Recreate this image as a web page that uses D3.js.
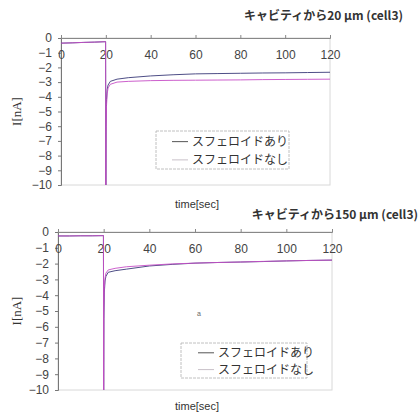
<!DOCTYPE html>
<html><head><meta charset="utf-8">
<script src="https://cdn.jsdelivr.net/npm/d3@7"></script>
<style>body{margin:0;background:#fff}svg{display:block}</style>
</head><body>
<script>
const time = [0, 5, 10, 15, 19.9, 20, 20.1, 20.3, 20.6, 21, 22, 25, 30, 40, 50, 60, 70, 80, 90, 100, 110, 120];
const top_with    = [-0.35,-0.33,-0.3,-0.28,-0.25,-10,-6,-4.2,-3.5,-3.2,-2.95,-2.8,-2.7,-2.58,-2.5,-2.44,-2.42,-2.4,-2.38,-2.37,-2.35,-2.33];
const top_without = [-0.35,-0.33,-0.3,-0.28,-0.25,-10,-6.5,-4.6,-3.8,-3.4,-3.15,-3.0,-2.95,-2.9,-2.88,-2.87,-2.86,-2.85,-2.83,-2.82,-2.81,-2.8];
const bot_with    = [-0.25,-0.25,-0.24,-0.24,-0.23,-10,-5.5,-3.8,-3.1,-2.8,-2.55,-2.45,-2.35,-2.15,-2.05,-1.97,-1.93,-1.9,-1.87,-1.83,-1.8,-1.78];
const bot_without = [-0.25,-0.25,-0.24,-0.24,-0.23,-10,-5,-3.5,-2.9,-2.6,-2.4,-2.3,-2.2,-2.1,-2.02,-1.97,-1.93,-1.9,-1.86,-1.83,-1.8,-1.78];
const xTicks = [0, 20, 40, 60, 80, 100, 120];
const yTicks = [0,-1,-2,-3,-4,-5,-6,-7,-8,-9,-10];
const seriesNames = ["スフェロイドあり", "スフェロイドなし"];
const titles = ["キャビティから20 µm (cell3)", "キャビティから150 µm (cell3)"];

const svg = d3.select("body").append("svg").attr("width", 420).attr("height", 412);

function chart(cfg) {
  const x = d3.scaleLinear().domain([0, 120]).range([cfg.l, cfg.r]);
  const y = d3.scaleLinear().domain([0, -10]).range([cfg.t, cfg.b]);
  const g = svg.append("g");
  g.append("rect").attr("x", cfg.l).attr("y", cfg.t).attr("width", cfg.r - cfg.l).attr("height", cfg.b - cfg.t)
    .attr("fill", "none").attr("stroke", "#d8d8d8").attr("stroke-width", 1);
  const ya = g.append("g").attr("transform", `translate(${cfg.l},0)`)
    .call(d3.axisLeft(y).tickValues(yTicks).tickSize(3).tickFormat(d => d === 0 ? "0" : "−" + Math.abs(d)));
  ya.select(".domain").attr("stroke", "#777");
  ya.selectAll(".tick line").attr("stroke", "#777");
  ya.selectAll("text").attr("fill", "#444").attr("font-size", 12).attr("font-family", "Liberation Sans, Arial, sans-serif").attr("x", -9);
  const xa = g.append("g").attr("transform", `translate(0,${y(0)})`)
    .call(d3.axisTop(x).tickValues(xTicks).tickSize(3));
  xa.select(".domain").attr("stroke", "#888");
  xa.selectAll(".tick line").attr("stroke", "#888");
  xa.selectAll("text").attr("fill", "#444").attr("font-size", 12).attr("font-family", "Liberation Sans, Arial, sans-serif")
    .attr("y", 17).attr("dy", "0.32em");
  const line = d3.line().x((d, i) => x(time[i])).y(d => y(d));
  g.append("path").datum(cfg.s1).attr("d", line).attr("fill", "none").attr("stroke", "#3a3a78").attr("stroke-width", 0.9);
  g.append("path").datum(cfg.s2).attr("d", line).attr("fill", "none").attr("stroke", "#c64ec6").attr("stroke-width", 0.9);
  g.append("text").attr("x", cfg.titleX).attr("y", cfg.titleY).attr("text-anchor", "end")
    .attr("font-size", 12).attr("font-weight", "bold").attr("fill", "#333")
    .attr("font-family", "Noto Sans CJK JP, sans-serif").text(cfg.title);
  g.append("text").attr("transform", `translate(21,${(cfg.t + cfg.b) / 2}) rotate(-90)`).attr("text-anchor", "middle")
    .attr("font-size", 13).attr("fill", "#333").attr("font-family", "Liberation Serif, serif").text("I[nA]");
  g.append("text").attr("x", 197).attr("y", cfg.xlabY).attr("text-anchor", "middle")
    .attr("font-size", 11).attr("fill", "#333").attr("font-family", "Liberation Sans, sans-serif").text("time[sec]");
  const L = cfg.leg;
  g.append("rect").attr("x", L.x).attr("y", L.y).attr("width", L.w).attr("height", L.h)
    .attr("fill", "#fff").attr("stroke", "#b0b0b0").attr("stroke-dasharray", "3,1").attr("stroke-width", 0.8);
  const lc = ["#555", "#c8c0c8"];
  seriesNames.forEach((n, i) => {
    const yy = L.y + L.h * (i === 0 ? 0.28 : 0.76);
    g.append("line").attr("x1", L.lx).attr("x2", L.lx + 16).attr("y1", yy).attr("y2", yy).attr("stroke", lc[i]).attr("stroke-width", 1);
    g.append("text").attr("x", L.lx + 20).attr("y", yy).attr("dy", "0.35em").attr("font-size", 12)
      .attr("fill", "#333").attr("font-family", "Noto Sans CJK JP, sans-serif").text(n);
  });
  return {x, y, g};
}

chart({l: 61, r: 330, t: 38, b: 185, s1: top_with, s2: top_without, title: titles[0], titleX: 403, titleY: 20,
  xlabY: 208, leg: {x: 156, y: 131, w: 133, h: 38, lx: 172}});
const c2 = chart({l: 58, r: 332, t: 232, b: 390, s1: bot_with, s2: bot_without, title: titles[1], titleX: 418, titleY: 219,
  xlabY: 410, leg: {x: 181, y: 343, w: 126, h: 35, lx: 198}});
c2.g.append("text").attr("x", 197).attr("y", 316).attr("font-size", 7).attr("fill", "#666").attr("font-family", "Liberation Sans, sans-serif").text("a");
</script>
</body></html>
